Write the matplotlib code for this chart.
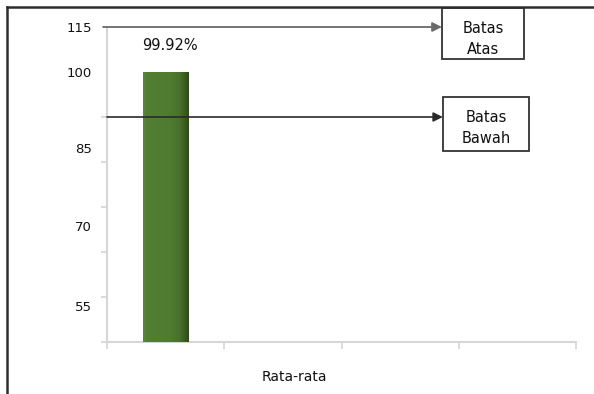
import numpy as np
import matplotlib
matplotlib.use("Agg")
import matplotlib.pyplot as plt
from matplotlib.patches import Rectangle
from matplotlib.lines import Line2D
from matplotlib.colors import LinearSegmentedColormap

# ---- data ----
categories = ["Rata-rata"]
values = [99.92]
upper_limit = 115
lower_limit = 85
limit_labels = ["Batas\nAtas", "Batas\nBawah"]
y_tick_values = list(range(10, 116, 15))
y_tick_labels = ["115", "100", "85", "70", "55"]
# where the y labels sit on the value scale
y_label_positions = [115, 100, 74.7, 48.7, 22.0]

W, H = 594, 394
plt.rcParams["font.family"] = ["DejaVu Sans"]

fig = plt.figure(figsize=(W / 100, H / 100), dpi=100)
fig.patch.set_facecolor("white")


def fx(x):
    return x / W


def fy(y):
    return 1 - y / H


y_min, y_max = 10, 115
ax = fig.add_axes([fx(107), fy(342), (576 - 107) / W, (342 - 27) / H])
ax.set_xlim(0, 4)
ax.set_ylim(y_min, y_max)

# outer frame (left and top edges)
fig.add_artist(Line2D([fx(7), fx(7)], [fy(7), 0], transform=fig.transFigure,
                      color="#2e2e2e", lw=1.8))
fig.add_artist(Line2D([fx(7), fx(593)], [fy(7), fy(7)], transform=fig.transFigure,
                      color="#2e2e2e", lw=1.8))

# spines
for s in ["top", "right"]:
    ax.spines[s].set_visible(False)
for s in ["left", "bottom"]:
    ax.spines[s].set_color("#d6d6d6")
    ax.spines[s].set_linewidth(1.5)

# y axis
ax.set_yticks(y_label_positions)
ax.set_yticklabels(y_tick_labels)
ax.set_yticks(y_tick_values, minor=True)
ax.tick_params(axis="y", which="major", length=0, pad=11, labelsize=9.5,
               labelcolor="#111111")
ax.tick_params(axis="y", which="minor", length=4, width=1.2, color="#d6d6d6",
               direction="out")

# x axis
ax.set_xticks([])
ax.set_xticks(np.arange(0, 5), minor=True)
ax.tick_params(axis="x", which="minor", length=5, width=1.2, color="#d6d6d6",
               direction="out")
ax.set_xlabel(categories[0], fontsize=10, color="#111111")
ax.xaxis.set_label_coords(0.399, -0.089)

# bar with a shaded green edge
bar_x = [0.5]
heights = np.array(values) - y_min
bars = ax.bar(bar_x, heights, width=0.39, bottom=y_min, color="#507d32", zorder=2)
green = LinearSegmentedColormap.from_list(
    "bar_green",
    [(0.0, "#5a893a"), (0.08, "#527f33"), (0.6, "#4e7b30"),
     (0.8, "#48712c"), (0.9, "#3b5e23"), (1.0, "#2f4b1b")])
for b, v in zip(bars, values):
    x0, w = b.get_x(), b.get_width()
    grad = np.linspace(0, 1, 256).reshape(1, -1)
    im = ax.imshow(grad, cmap=green, aspect="auto",
                   extent=[x0, x0 + w, y_min, v], zorder=3)
    im.set_clip_path(b)
    ax.annotate(f"{v:.2f}%", xy=(x0 + w / 2, v), xytext=(3, 19),
                textcoords="offset points", ha="center", va="center",
                fontsize=10.5, color="#111111")
ax.set_xlim(0, 4)
ax.set_ylim(y_min, y_max)

# limit arrows
ax.annotate("", xy=(0.714, upper_limit), xytext=(-0.0085, upper_limit),
            xycoords=("axes fraction", "data"), textcoords=("axes fraction", "data"),
            arrowprops=dict(arrowstyle="-|>", color="#6a6a6a", lw=1.3,
                            mutation_scale=14, shrinkA=0, shrinkB=0),
            annotation_clip=False, zorder=5)
ax.annotate("", xy=(0.716, lower_limit), xytext=(0.0, lower_limit),
            xycoords=("axes fraction", "data"), textcoords=("axes fraction", "data"),
            arrowprops=dict(arrowstyle="-|>", color="#2a2a2a", lw=1.2,
                            mutation_scale=14, shrinkA=0, shrinkB=0),
            annotation_clip=False, zorder=5)

# limit boxes
boxes = [(442, 8, 524, 59, 39), (443, 97, 529, 151, 128)]
for (x0, y0, x1, y1, ty), label in zip(boxes, limit_labels):
    fig.add_artist(Rectangle((fx(x0), fy(y1)), (x1 - x0) / W, (y1 - y0) / H,
                             transform=fig.transFigure, facecolor="white",
                             edgecolor="#333333", lw=1.3))
    fig.text(fx((x0 + x1) / 2), fy(ty), label, ha="center", va="center",
             fontsize=10.5, linespacing=1.45, color="#111111")

fig.savefig("out.png", dpi=100, facecolor="white")
